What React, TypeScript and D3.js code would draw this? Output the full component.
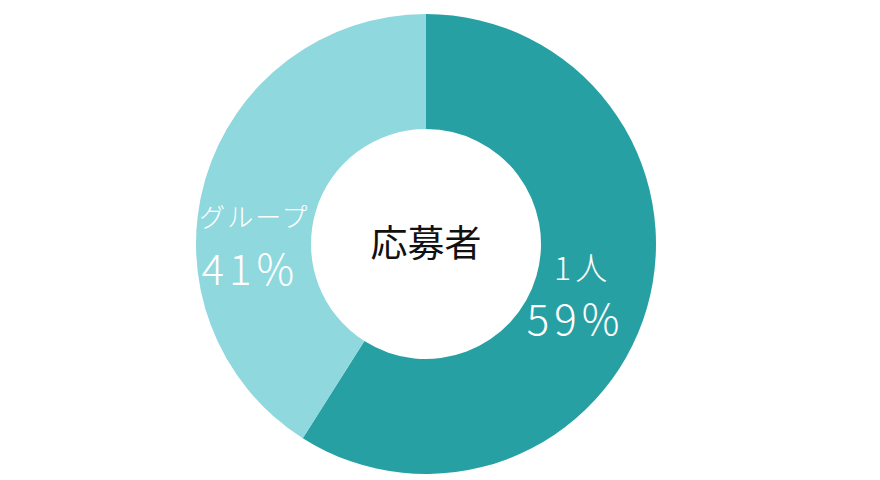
import React from 'react';
import * as d3 from 'd3';

const categories = ['1人', 'グループ'];
const values = [59, 41];
const colors = ['#27a0a4', '#8fd8de'];
const centerTitle = '応募者';

const W = 880;
const H = 480;
const cx = 426;
const cy = 244;
const outerR = 230;
const innerR = 115;
const FONT = '"Noto Sans CJK JP", "Noto Sans", sans-serif';

// offsets from the ring centroid: [name dx, name dy, value dx, value dy]
const labelOffsets = [
  [-9, -12, -16, 43],
  [-6, 31, -10, 89],
];

export default function App() {
  const pie = d3.pie<number>().sort(null).value(d => d);
  const arcs = pie(values);
  const arc = d3.arc<d3.PieArcDatum<number>>().innerRadius(innerR).outerRadius(outerR);

  return (
    <svg width={W} height={H} style={{ position: 'absolute', left: 0, top: 0, background: '#fff' }}>
      <g transform={`translate(${cx},${cy})`}>
        {arcs.map((a, i) => (
          <path key={categories[i]} d={arc(a) || ''} fill={colors[i]} />
        ))}
        {arcs.map((a, i) => {
          const [x, y] = arc.centroid(a);
          const o = labelOffsets[i];
          return (
            <g key={'l' + i} fill="#fff" fontFamily={FONT} fontWeight={300} textAnchor="middle">
              <text x={x + o[0]} y={y + o[1]} fontSize={i === 0 ? 32 : 26} letterSpacing={i === 0 ? 4 : 2}>{categories[i]}</text>
              <text x={x + o[2]} y={y + o[3]} fontSize={42} letterSpacing={5}>{values[i]}%</text>
            </g>
          );
        })}
        <text y={13} textAnchor="middle" fontFamily={FONT} fontSize={37} fill="#111">{centerTitle}</text>
      </g>
    </svg>
  );
}
